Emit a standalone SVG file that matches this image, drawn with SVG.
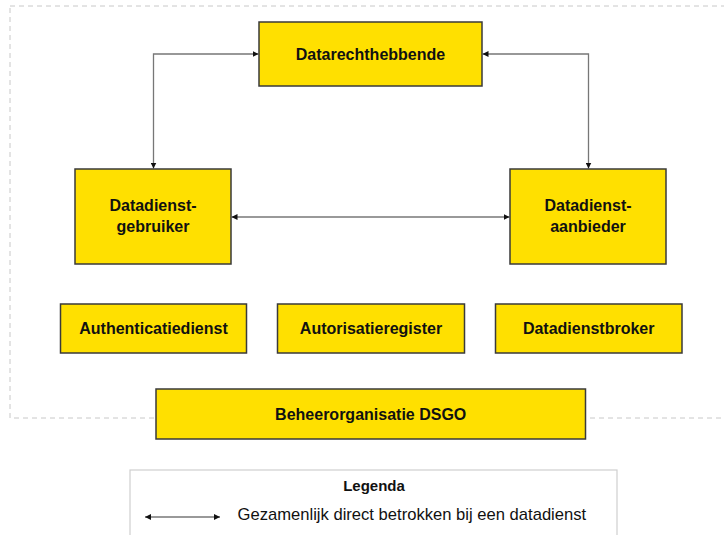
<svg xmlns="http://www.w3.org/2000/svg" width="724" height="535" viewBox="0 0 724 535">
<defs>
<style>
.node{fill:#FFE000;stroke:#3a3a3a;stroke-width:1.5}
.lbl{font-family:"Liberation Sans",Arial,sans-serif;font-weight:bold;font-size:16px;fill:#111;text-anchor:middle}
.conn{fill:none;stroke:#777;stroke-width:1.3}
.leg{font-family:"Liberation Sans",Arial,sans-serif;font-size:16.6px;fill:#111}
</style>
<marker id="ah" viewBox="0 0 10 10" refX="10" refY="5" markerWidth="6" markerHeight="6" markerUnits="userSpaceOnUse" orient="auto-start-reverse">
<path d="M0,0 L10,5 L0,10 z" fill="#111"/>
</marker>
</defs>
<rect x="10" y="6" width="730" height="412" fill="none" stroke="#c8c8c8" stroke-width="1" stroke-dasharray="5,4"/>
<g id="connectors">
<path class="conn" d="M153.5,168.5 V54 H258.5" marker-start="url(#ah)" marker-end="url(#ah)"/>
<path class="conn" d="M588.5,168.5 V54 H482.5" marker-start="url(#ah)" marker-end="url(#ah)"/>
<path class="conn" d="M231.5,217 H509.5" marker-start="url(#ah)" marker-end="url(#ah)"/>
</g>
<g id="datarechthebbende">
<rect class="node" x="259" y="22" width="223" height="64"/>
<text class="lbl" x="370.5" y="60">Datarechthebbende</text>
</g>
<g id="datadienstgebruiker">
<rect class="node" x="75" y="169" width="156" height="95"/>
<text class="lbl" x="153" y="211">Datadienst-</text>
<text class="lbl" x="153" y="231.5">gebruiker</text>
</g>
<g id="datadienstaanbieder">
<rect class="node" x="510" y="169" width="156" height="95"/>
<text class="lbl" x="588" y="211">Datadienst-</text>
<text class="lbl" x="588" y="231.5">aanbieder</text>
</g>
<g id="authenticatiedienst">
<rect class="node" x="60.5" y="304" width="186" height="49"/>
<text class="lbl" x="153.5" y="334">Authenticatiedienst</text>
</g>
<g id="autorisatieregister">
<rect class="node" x="277.5" y="304" width="187" height="49"/>
<text class="lbl" x="371" y="334">Autorisatieregister</text>
</g>
<g id="datadienstbroker">
<rect class="node" x="495.5" y="304" width="186.5" height="49"/>
<text class="lbl" x="588.7" y="334">Datadienstbroker</text>
</g>
<g id="beheerorganisatie">
<rect class="node" x="156" y="389" width="429.5" height="50"/>
<text class="lbl" x="370.7" y="420">Beheerorganisatie DSGO</text>
</g>
<g id="legenda">
<rect x="130" y="470" width="487" height="80" fill="#fff" stroke="#cfcfcf" stroke-width="1.2"/>
<text class="lbl" x="374" y="491" style="font-size:15px">Legenda</text>
<path class="conn" d="M145,517 H220" marker-start="url(#ah)" marker-end="url(#ah)"/>
<text class="leg" x="237.5" y="520">Gezamenlijk direct betrokken bij een datadienst</text>
</g>
</svg>
